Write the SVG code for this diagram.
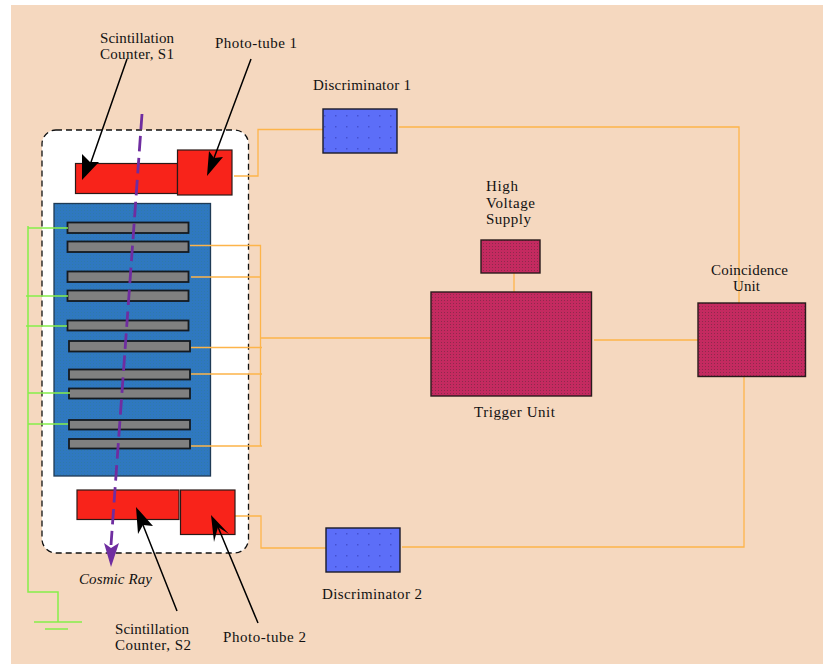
<svg xmlns="http://www.w3.org/2000/svg" width="823" height="664" viewBox="0 0 823 664">
<style>
text{font-family:"Liberation Serif","Times New Roman",serif;font-size:15px;fill:#111}
.o{fill:none;stroke:#fdb44a;stroke-width:1.3}
.g{fill:none;stroke:#85ee4a;stroke-width:1.5}
.r{fill:#f8231a;stroke:#2a1a18;stroke-width:1.2}
.m{fill:url(#mag);stroke:#2a1a1c;stroke-width:1.4}
.b{fill:url(#blu);stroke:#1a1a2a;stroke-width:1.4}
.p{fill:#808080;stroke:#151a20;stroke-width:1.8}
.a{fill:none;stroke:#000;stroke-width:1.5}
</style>
<defs>
<pattern id="mag" width="3" height="3" patternUnits="userSpaceOnUse"><rect width="3" height="3" fill="#c42a60"/><rect width="1" height="1" fill="#8e2a4c"/></pattern>
<pattern id="blu" width="11" height="11" patternUnits="userSpaceOnUse"><rect width="11" height="11" fill="#5c6ef8"/><rect x="5" y="5" width="1.500" height="1.500" fill="#4450d0"/></pattern>
<pattern id="cha" width="3" height="3" patternUnits="userSpaceOnUse"><rect width="3" height="3" fill="#2f78c0"/><rect width="1" height="1" fill="#2f7aa8"/></pattern>
</defs>
<rect x="0" y="0" width="823" height="664" fill="#fff"/>
<rect x="11" y="5" width="812" height="659" fill="#f5d8bf"/>
<g id="enclosure"><rect x="42" y="130" width="206.500" height="423" rx="14" fill="#fff" stroke="#111" stroke-width="1.300" stroke-dasharray="6 4"/></g>
<g id="chamber"><rect x="54" y="203.500" width="156.500" height="272.500" fill="url(#cha)" stroke="#1f3a55" stroke-width="1.300"/></g>
<g id="plates">
<rect class="p" x="67.500" y="222.500" width="121" height="10.500"/>
<rect class="p" x="67.500" y="241.500" width="121" height="10.500"/>
<rect class="p" x="67.500" y="271.500" width="121" height="10.500"/>
<rect class="p" x="67.500" y="290.500" width="121" height="10.500"/>
<rect class="p" x="67.500" y="320.500" width="121" height="10"/>
<rect class="p" x="69" y="341" width="121" height="10.500"/>
<rect class="p" x="69" y="369.500" width="121" height="10"/>
<rect class="p" x="69" y="388.500" width="121" height="10"/>
<rect class="p" x="69" y="420" width="121" height="9.500"/>
<rect class="p" x="69" y="439" width="121" height="9.500"/>
</g>
<g id="connectors">
<path class="g" d="M28 226V592H58V622M28 228H68M26 296H68M26 326H67M28 393H70M28 424H68M34 622H82M45 629H68"/>
<path class="o" d="M190 245.500H260.500V446M191 277H260M191 347.500H262M191 374H262M191 446H262M260.500 338H431M234 176H258V129.500H323M399 127H739V303M514 270V292M594 340H698M235 516H261V548H326M402 547H744V376"/>
</g>
<g id="scintillator-s1"><rect class="r" x="75.500" y="163.500" width="102" height="30"/></g>
<g id="phototube-1"><rect class="r" x="177.500" y="150" width="54.500" height="45"/></g>
<g id="scintillator-s2"><rect class="r" x="77" y="490" width="102" height="29.500"/></g>
<g id="phototube-2"><rect class="r" x="180.500" y="490" width="54.500" height="44.500"/></g>
<g id="discriminator-1"><rect class="b" x="323" y="109" width="74" height="44"/><text x="313" y="90" textLength="98">Discriminator 1</text></g>
<g id="discriminator-2"><rect class="b" x="326" y="528" width="74" height="44"/><text x="322" y="599" textLength="100">Discriminator 2</text></g>
<g id="hv-supply"><rect class="m" x="481" y="240" width="59" height="33"/><text x="486" y="191" textLength="32">High</text><text x="486" y="208" textLength="49">Voltage</text><text x="486" y="224" textLength="45">Supply</text></g>
<g id="trigger-unit"><rect class="m" x="431" y="292" width="160.500" height="104"/><text x="474" y="417" textLength="81">Trigger Unit</text></g>
<g id="coincidence-unit"><rect class="m" x="698" y="303" width="107.500" height="73.500"/><text x="711" y="275" textLength="77">Coincidence</text><text x="733" y="291" textLength="27">Unit</text></g>
<g id="labels">
<text x="100" y="43" textLength="74">Scintillation</text><text x="100" y="59" textLength="74">Counter, S1</text>
<text x="215" y="48" textLength="82">Photo-tube 1</text>
<text x="115" y="634" textLength="74">Scintillation</text><text x="115" y="650" textLength="76">Counter, S2</text>
<text x="223" y="642" textLength="83">Photo-tube 2</text>
<text x="79" y="584" font-style="italic" textLength="73">Cosmic Ray</text>
</g>
<g id="pointers">
<path class="a" d="M127 59 90 165M251 59 214 158M177 611 143 525M258 623 218 527"/>
<path d="M82 180 82 154 90 162 99 162ZM207 176 209 151 214 158 223 157ZM136 507 153 526 143 525 138 534ZM211 515 229 534 218 527 214 542Z" fill="#000"/>
</g>
<g id="cosmic-ray">
<path d="M142 114 111 545" fill="none" stroke="#6f2da0" stroke-width="2.800" stroke-dasharray="15.500 6.500"/>
<path d="M111 567 104 543 111 548 119 543Z" fill="#6f2da0"/>
</g>
</svg>
